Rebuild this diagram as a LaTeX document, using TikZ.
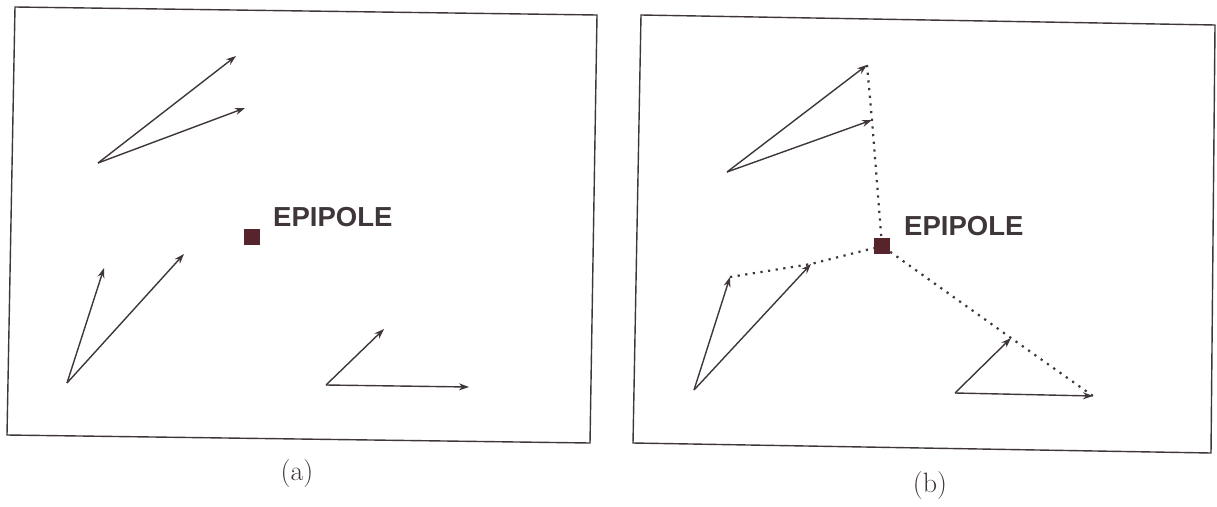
\documentclass[tikz,border=0pt]{standalone}
\usepackage{fontspec}
\setsansfont{Liberation Sans}
\usetikzlibrary{arrows.meta}

\definecolor{inkgray}{RGB}{62,54,58}
\definecolor{epired}{RGB}{88,36,44}

\tikzset{
  frame/.style={draw=inkgray, line width=1.4pt},
  vec/.style={-{Stealth[length=10pt, width=7pt]}, draw=inkgray, line width=1.4pt},
  ray/.style={draw=inkgray, line width=2.2pt, dash pattern=on 2.2pt off 5.5pt},
  epi/.style={fill=epired, minimum size=16pt, inner sep=0pt},
  epitext/.style={anchor=west, inner sep=0pt, text=inkgray,
                  font=\sffamily\bfseries\fontsize{27.5}{28}\selectfont},
  caption/.style={inner sep=0pt, text=inkgray, font=\fontsize{28}{30}\selectfont}
}

\begin{document}
\begin{tikzpicture}[x=1pt, y=-1pt, >=Stealth]
  \useasboundingbox (0,0) rectangle (1217,506);

  % Panel (a): flow vectors and the epipole
  \draw[frame] (15,7) -- (597,15) -- (590,443) -- (7,435) -- cycle;
  \node[epi] (epiA) at (252,237) {};
  \node[epitext] (epiAlabel) at (273,217) {EPIPOLE};
  \foreach \name/\pos in {
      a1/{98,163}, a2/{236,56}, a3/{245,108},
      a4/{67,383}, a5/{104,268}, a6/{184,254},
      a7/{326,385}, a8/{384,329}, a9/{469,387}} {
    \coordinate (\name) at (\pos);
  }
  \foreach \from/\to in {a1/a2, a1/a3, a4/a5, a4/a6, a7/a8, a7/a9} {
    \draw[vec] (\from) -- (\to);
  }
  \node[caption] (capA) at (297,474) {(a)};

  % Panel (b): same vectors, tips joined to the epipole
  \draw[frame] (641,15) -- (1215,25) -- (1211,453) -- (633,443) -- cycle;
  \node[epi] (epiB) at (882,246) {};
  \node[epitext] (epiBlabel) at (904,226) {EPIPOLE};
  \foreach \name/\pos in {
      b1/{727,172}, b2/{867,65}, b3/{872,120},
      b4/{694,390}, b5/{730,277}, b6/{811,264},
      b7/{955,393}, b8/{1011,338}, b9/{1093,396}} {
    \coordinate (\name) at (\pos);
  }
  % dotted epipolar lines
  \draw[ray] (b2) -- (b3) -- (epiB);
  \draw[ray] (b5) -- (b6) -- (epiB);
  \draw[ray] (epiB) -- (b8) -- (b9);
  \foreach \from/\to in {b1/b2, b1/b3, b4/b5, b4/b6, b7/b8, b7/b9} {
    \draw[vec] (\from) -- (\to);
  }
  \node[caption] (capB) at (930,486) {(b)};
\end{tikzpicture}
\end{document}
